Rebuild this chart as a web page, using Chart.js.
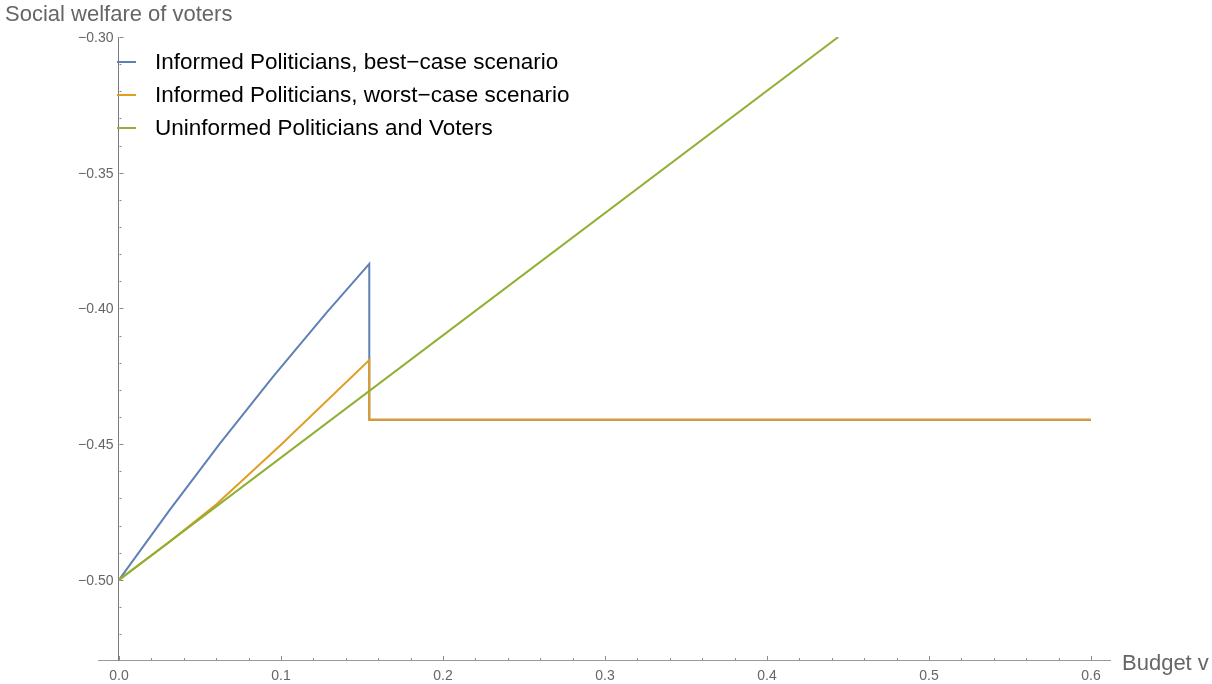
<!DOCTYPE html>
<html>
<head>
<meta charset="utf-8">
<title>Social welfare of voters</title>
<script src="https://cdn.jsdelivr.net/npm/chart.js@4.4.0/dist/chart.umd.min.js"></script>
<style>
    html, body { margin: 0; padding: 0; background: #fff; }
    #wrap { width: 1212px; height: 684px; }
</style>
</head>
<body>
<div id="wrap"><canvas id="chart" width="1212" height="684"></canvas></div>
<script>
// values
const budgetBest = [0, 0.031, 0.062, 0.095, 0.128, 0.1545, 0.1545, 0.6];
const welfareBest = [-0.5, -0.4745, -0.45, -0.4252, -0.4016, -0.3836, -0.441, -0.441];
const budgetWorst = [0, 0.03, 0.06, 0.1, 0.1545, 0.1545, 0.6];
const welfareWorst = [-0.5, -0.4865, -0.4722, -0.4502, -0.419, -0.441, -0.441];
const budgetUninformed = [0, 0.444];
const welfareUninformed = [-0.5, -0.3];

const seriesNames = [
    "Informed Politicians, best\u2212case scenario",
    "Informed Politicians, worst\u2212case scenario",
    "Uninformed Politicians and Voters"
];
const seriesColors = ['#5E81B5', '#E19C24', '#8FB032'];

const xTicks = [0, 0.1, 0.2, 0.3, 0.4, 0.5, 0.6];
const yTicks = [-0.5, -0.45, -0.4, -0.35, -0.3];
const xLabel = "Budget v";
const yLabel = "Social welfare of voters";

const FONT = "'Liberation Sans', Arial, Helvetica, sans-serif";

function toPoints(xs, ys) {
    let pts = [];
    for (let i = 0; i < xs.length; i++) {
        pts.push({x: xs[i], y: ys[i]});
    }
    return pts;
}

function yTickText(v) {
    return '\u2212' + Math.abs(v).toFixed(2);
}

// mathematica style: inward ticks, y labels left of the axis at x=0, legend inside the frame
const decorations = {
    id: 'decorations',
    afterDraw(chart) {
        let ctx = chart.ctx;
        let xs = chart.scales.x;
        let ys = chart.scales.y;
        let x0 = Math.round(xs.getPixelForValue(0)) + 0.5;
        let yb = chart.chartArea.bottom;
        ctx.save();
        ctx.strokeStyle = '#8c8c8c';
        ctx.lineWidth = 1;
        ctx.beginPath();
        // x ticks, minor every 0.02
        for (let k = 0; k <= 30; k++) {
            let v = k * 0.02;
            let px = Math.round(xs.getPixelForValue(v)) + 0.5;
            let len = (k % 5 === 0) ? 4 : 2;
            ctx.moveTo(px, yb);
            ctx.lineTo(px, yb - len);
        }
        // y ticks, minor every 0.01
        for (let k = 0; k <= 22; k++) {
            let v = -0.52 + k * 0.01;
            let py = Math.round(ys.getPixelForValue(v)) + 0.5;
            let len = (k % 5 === 2) ? 4 : 2;
            ctx.moveTo(x0, py);
            ctx.lineTo(x0 + len, py);
        }
        ctx.stroke();

        // y tick labels
        ctx.fillStyle = '#666666';
        ctx.font = '14px ' + FONT;
        ctx.textAlign = 'right';
        ctx.textBaseline = 'middle';
        for (let i = 0; i < yTicks.length; i++) {
            ctx.fillText(yTickText(yTicks[i]), x0 - 6, ys.getPixelForValue(yTicks[i]) + 1);
        }

        // axis labels
        ctx.font = '22px ' + FONT;
        ctx.textBaseline = 'alphabetic';
        ctx.textAlign = 'left';
        ctx.fillText(yLabel, 5, 21);
        ctx.fillText(xLabel, 1122, 670);

        // legend
        ctx.font = '22.5px ' + FONT;
        ctx.textBaseline = 'middle';
        for (let i = 0; i < seriesNames.length; i++) {
            let y = 62 + i * 33;
            ctx.strokeStyle = seriesColors[i];
            ctx.lineWidth = 2;
            ctx.beginPath();
            ctx.moveTo(117, y);
            ctx.lineTo(136, y);
            ctx.stroke();
            ctx.fillStyle = '#000000';
            ctx.fillText(seriesNames[i], 155, y + 1);
        }
        ctx.restore();
    }
};

function createChart() {
    const config = {
        type: 'line',
        data: {
            datasets: [{
                label: seriesNames[0],
                data: toPoints(budgetBest, welfareBest),
                borderColor: seriesColors[0],
                order: 3
            }, {
                label: seriesNames[1],
                data: toPoints(budgetWorst, welfareWorst),
                borderColor: seriesColors[1],
                order: 2
            }, {
                label: seriesNames[2],
                data: toPoints(budgetUninformed, welfareUninformed),
                borderColor: seriesColors[2],
                order: 1
            }]
        },
        options: {
            responsive: false,
            animation: false,
            events: [],
            elements: {
                line: { borderWidth: 2, tension: 0, fill: false },
                point: { radius: 0 }
            },
            layout: {
                padding: { left: 98, right: 102, top: 37, bottom: 0 }
            },
            plugins: {
                legend: { display: false },
                tooltip: { enabled: false }
            },
            scales: {
                x: {
                    type: 'linear',
                    position: 'bottom',
                    min: -0.01296,
                    max: 0.61173,
                    afterBuildTicks: function (s) {
                        s.ticks = xTicks.map(v => ({value: v}));
                    },
                    afterFit: function (s) { s.height = 24; },
                    grid: { display: true, drawOnChartArea: false, drawTicks: false },
                    border: { display: true, color: '#9a9a9a', width: 1 },
                    ticks: {
                        padding: 8,
                        color: '#666666',
                        font: { family: FONT, size: 14 },
                        callback: v => v.toFixed(1)
                    }
                },
                y: {
                    type: 'linear',
                    position: { x: 0 },
                    min: -0.5295,
                    max: -0.3,
                    afterBuildTicks: function (s) {
                        s.ticks = yTicks.map(v => ({value: v}));
                    },
                    afterFit: function (s) { s.width = 0; },
                    grid: { display: true, drawOnChartArea: false, drawTicks: false },
                    border: { display: true, color: '#7a7a7a', width: 1 },
                    ticks: { display: false }
                }
            }
        },
        plugins: [decorations]
    };
    let canvas = document.getElementById('chart');
    let ctx = canvas.getContext('2d');
    var myChart = new Chart(ctx, config);
}

document.addEventListener("DOMContentLoaded", () => {
    createChart();
});
</script>
</body>
</html>
